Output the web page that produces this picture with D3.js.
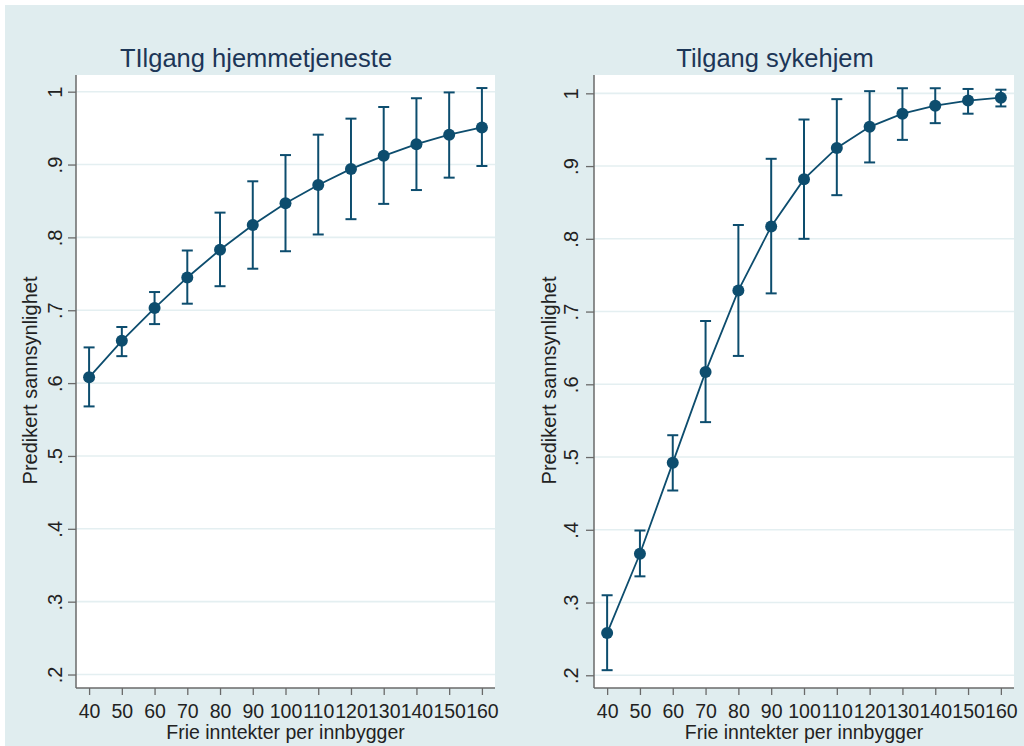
<!DOCTYPE html>
<html>
<head>
<meta charset="utf-8">
<script src="https://cdn.jsdelivr.net/npm/d3@7"></script>
<style>
  html, body { margin: 0; padding: 0; background: #ffffff; }
  svg { display: block; }
  text { font-family: "Liberation Sans", Arial, sans-serif; }
</style>
</head>
<body>
<svg id="chart" width="1024" height="746"></svg>
<script>
// Income levels (x) shared by both panels
const income = [40, 50, 60, 70, 80, 90, 100, 110, 120, 130, 140, 150, 160];

// Home care services: predicted probability with 95% CI
const homeCareP  = [0.608, 0.658, 0.703, 0.745, 0.783, 0.817, 0.847, 0.872, 0.894, 0.912, 0.928, 0.941, 0.951];
const homeCareLo = [0.568, 0.637, 0.681, 0.709, 0.733, 0.757, 0.781, 0.804, 0.825, 0.846, 0.865, 0.882, 0.898];
const homeCareHi = [0.649, 0.677, 0.725, 0.782, 0.834, 0.877, 0.913, 0.941, 0.963, 0.979, 0.991, 0.999, 1.005];

// Nursing home: predicted probability with 95% CI
const nursingP  = [0.258, 0.367, 0.492, 0.617, 0.729, 0.817, 0.882, 0.925, 0.954, 0.972, 0.983, 0.990, 0.994];
const nursingLo = [0.207, 0.336, 0.454, 0.548, 0.639, 0.725, 0.800, 0.860, 0.905, 0.936, 0.959, 0.972, 0.982];
const nursingHi = [0.310, 0.399, 0.530, 0.687, 0.819, 0.910, 0.964, 0.992, 1.003, 1.007, 1.007, 1.006, 1.005];

const yTicks = [0.2, 0.3, 0.4, 0.5, 0.6, 0.7, 0.8, 0.9, 1];
const yTickLabels = [".2", ".3", ".4", ".5", ".6", ".7", ".8", ".9", "1"];
const titles = ["TIlgang hjemmetjeneste", "Tilgang sykehjem"];
const xTitle = "Frie inntekter per innbygger";
const yTitle = "Predikert sannsynlighet";

const C = {
  bg: "#e0edef",
  plot: "#ffffff",
  grid: "#e4eff1",
  axis: "#6a6a6a",
  mark: "#0d4d6e",
  title: "#1c3657",
  label: "#222222"
};

const svg = d3.select("#chart");
svg.append("rect").attr("x", 5).attr("y", 5).attr("width", 1019).attr("height", 741).attr("fill", C.bg);

const panels = [
  { title: titles[0], p: homeCareP, lo: homeCareLo, hi: homeCareHi,
    left: 76, right: 495, top: 75, bottom: 688, yDom: [0.1815, 1.0229], titleX: 256, yTitleX: 37, yLabX: 61.5 },
  { title: titles[1], p: nursingP, lo: nursingLo, hi: nursingHi,
    left: 594, right: 1014, top: 75, bottom: 688, yDom: [0.1825, 1.0252], titleX: 775, yTitleX: 556, yLabX: 578 }
];

panels.forEach(pn => {
  const x = d3.scaleLinear().domain([36, 164]).range([pn.left, pn.right]);
  const y = d3.scaleLinear().domain(pn.yDom).range([pn.bottom, pn.top]);
  const g = svg.append("g");

  // plot region
  g.append("rect").attr("x", pn.left).attr("y", pn.top)
    .attr("width", pn.right - pn.left).attr("height", pn.bottom - pn.top).attr("fill", C.plot);

  // horizontal grid
  g.selectAll("line.grid").data(yTicks).join("line")
    .attr("x1", pn.left).attr("x2", pn.right)
    .attr("y1", d => y(d)).attr("y2", d => y(d))
    .attr("stroke", C.grid).attr("stroke-width", 1.6);

  // y axis
  const yAxis = d3.axisLeft(y).tickValues(yTicks).tickSize(8)
    .tickFormat((d, i) => yTickLabels[i]);
  const ya = g.append("g").attr("transform", `translate(${pn.left},0)`).call(yAxis);
  ya.select(".domain").remove();
  ya.selectAll(".tick line").attr("stroke", C.axis).attr("stroke-width", 1.3);
  ya.selectAll(".tick text")
    .attr("x", null).attr("dy", null)
    .attr("transform", `translate(${pn.yLabX - pn.left},0) rotate(-90)`)
    .attr("text-anchor", "middle")
    .attr("font-size", 20).attr("fill", C.label);

  // x axis
  const xAxis = d3.axisBottom(x).tickValues(income).tickSize(7).tickFormat(d3.format("d"));
  const xa = g.append("g").attr("transform", `translate(0,${pn.bottom})`).call(xAxis);
  xa.select(".domain").remove();
  xa.selectAll(".tick line").attr("stroke", C.axis).attr("stroke-width", 1.3);
  xa.selectAll(".tick text").attr("y", 30).attr("dy", null)
    .attr("font-size", 19.5).attr("fill", C.label);

  // axis lines
  g.append("line").attr("x1", pn.left).attr("x2", pn.left).attr("y1", pn.top).attr("y2", pn.bottom)
    .attr("stroke", C.axis).attr("stroke-width", 1.5);
  g.append("line").attr("x1", pn.left).attr("x2", pn.right).attr("y1", pn.bottom).attr("y2", pn.bottom)
    .attr("stroke", C.axis).attr("stroke-width", 1.5);

  // titles
  g.append("text").attr("x", pn.titleX).attr("y", 66.5).attr("text-anchor", "middle")
    .attr("font-size", 25.5).attr("fill", C.title).text(pn.title);
  g.append("text").attr("x", (pn.left + pn.right) / 2).attr("y", 738.5).attr("text-anchor", "middle")
    .attr("font-size", 19.5).attr("fill", C.label).text(xTitle);
  g.append("text")
    .attr("transform", `translate(${pn.yTitleX},${(pn.top + pn.bottom) / 2 - 1}) rotate(-90)`)
    .attr("text-anchor", "middle").attr("font-size", 20).attr("fill", C.label).text(yTitle);

  const rows = income.map((v, i) => ({ x: v, p: pn.p[i], lo: pn.lo[i], hi: pn.hi[i] }));

  // confidence interval bars
  const eb = g.append("g").attr("stroke", C.mark).attr("stroke-width", 2).attr("fill", "none");
  eb.selectAll("line.v").data(rows).join("line")
    .attr("x1", d => x(d.x)).attr("x2", d => x(d.x))
    .attr("y1", d => y(d.lo)).attr("y2", d => y(d.hi));
  eb.selectAll("line.hi").data(rows).join("line")
    .attr("x1", d => x(d.x) - 5.5).attr("x2", d => x(d.x) + 5.5)
    .attr("y1", d => y(d.hi)).attr("y2", d => y(d.hi));
  eb.selectAll("line.lo").data(rows).join("line")
    .attr("x1", d => x(d.x) - 5.5).attr("x2", d => x(d.x) + 5.5)
    .attr("y1", d => y(d.lo)).attr("y2", d => y(d.lo));

  // connecting line
  g.append("path").datum(rows)
    .attr("d", d3.line().x(d => x(d.x)).y(d => y(d.p)))
    .attr("fill", "none").attr("stroke", C.mark).attr("stroke-width", 1.8);

  // markers
  g.selectAll("circle").data(rows).join("circle")
    .attr("cx", d => x(d.x)).attr("cy", d => y(d.p)).attr("r", 6)
    .attr("fill", C.mark);
});
</script>
</body>
</html>
